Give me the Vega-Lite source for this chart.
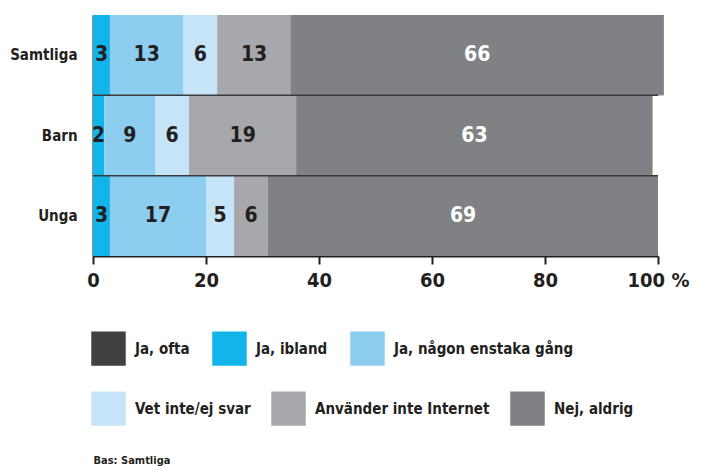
{
  "$schema": "https://vega.github.io/schema/vega-lite/v6.json",
  "width": 565,
  "height": 241,
  "autosize": {"type": "none"},
  "padding": {"left": 93, "top": 15, "right": 44, "bottom": 210},
  "background": "white",
  "config": {
    "view": {"stroke": null},
    "font": "DejaVu Sans Condensed, DejaVu Sans, sans-serif"
  },
  "data": {
    "values": [
      {"group": "Samtliga", "cat": "Ja, ofta", "value": 0},
      {"group": "Samtliga", "cat": "Ja, ibland", "value": 3},
      {"group": "Samtliga", "cat": "Ja, någon enstaka gång", "value": 13},
      {"group": "Samtliga", "cat": "Vet inte/ej svar", "value": 6},
      {"group": "Samtliga", "cat": "Använder inte Internet", "value": 13},
      {"group": "Samtliga", "cat": "Nej, aldrig", "value": 66},
      {"group": "Barn", "cat": "Ja, ofta", "value": 0},
      {"group": "Barn", "cat": "Ja, ibland", "value": 2},
      {"group": "Barn", "cat": "Ja, någon enstaka gång", "value": 9},
      {"group": "Barn", "cat": "Vet inte/ej svar", "value": 6},
      {"group": "Barn", "cat": "Använder inte Internet", "value": 19},
      {"group": "Barn", "cat": "Nej, aldrig", "value": 63},
      {"group": "Unga", "cat": "Ja, ofta", "value": 0},
      {"group": "Unga", "cat": "Ja, ibland", "value": 3},
      {"group": "Unga", "cat": "Ja, någon enstaka gång", "value": 17},
      {"group": "Unga", "cat": "Vet inte/ej svar", "value": 5},
      {"group": "Unga", "cat": "Använder inte Internet", "value": 6},
      {"group": "Unga", "cat": "Nej, aldrig", "value": 69}
    ]
  },
  "transform": [
    {"calculate": "indexof(['Ja, ofta','Ja, ibland','Ja, någon enstaka gång','Vet inte/ej svar','Använder inte Internet','Nej, aldrig'], datum.cat)", "as": "rank"},
    {"stack": "value", "groupby": ["group"], "sort": [{"field": "rank", "order": "ascending"}], "as": ["x0", "x1"]},
    {"calculate": "(datum.x0 + datum.x1) / 2", "as": "mid"},
    {"calculate": "datum.cat", "as": "cat2"}
  ],
  "encoding": {
    "y": {
      "field": "group",
      "type": "nominal",
      "sort": ["Samtliga", "Barn", "Unga"],
      "scale": {"paddingInner": 0, "paddingOuter": 0},
      "axis": {
        "title": null,
        "domain": true,
        "domainColor": "#231f20",
        "domainWidth": 2,
        "ticks": false,
        "labelPadding": 16,
        "labelFontSize": 15,
        "labelFontWeight": "bold",
        "labelColor": "#231f20"
      }
    }
  },
  "layer": [
    {
      "transform": [{"filter": "datum.rank >= 3"}],
      "mark": {"type": "bar", "stroke": null},
      "encoding": {
        "x": {
          "field": "x0",
          "type": "quantitative",
          "scale": {"domain": [0, 100], "nice": false},
          "axis": {
            "values": [0, 20, 40, 60, 80, 100],
            "labelExpr": "datum.value == 100 ? '100 %' : datum.label",
            "grid": false,
            "domainColor": "#231f20",
            "domainWidth": 2,
            "tickColor": "#231f20",
            "tickWidth": 2,
            "tickSize": 8,
            "labelFontSize": 20,
            "labelFontWeight": "bold",
            "labelColor": "#231f20",
            "labelPadding": 6,
            "labelFlush": false,
            "labelOverlap": false,
            "title": "Bas: Samtliga",
            "titleFontSize": 11,
            "titleFontWeight": "bold",
            "titleColor": "#231f20",
            "titleAlign": "left",
            "titleAnchor": "start",
            "titleX": 0,
            "titleY": 207,
            "titleBaseline": "alphabetic",
            "encode": {
              "labels": {
                "update": {
                  "align": {"signal": "datum.value == 100 ? 'left' : 'center'"},
                  "dx": {"signal": "datum.value == 100 ? -19 : 0"}
                }
              }
            }
          }
        },
        "x2": {"field": "x1"},
        "fill": {
          "field": "cat2",
          "type": "nominal",
          "sort": ["Vet inte/ej svar", "Använder inte Internet", "Nej, aldrig"],
          "scale": {
            "domain": ["Vet inte/ej svar", "Använder inte Internet", "Nej, aldrig"],
            "range": ["#c6e4f7", "#a7a8ab", "#808184"]
          },
          "legend": {
            "title": null,
            "orient": "none",
            "legendX": -2,
            "legendY": 376,
            "direction": "horizontal",
            "symbolType": "square",
            "symbolSize": 1190,
            "symbolStrokeWidth": 0,
            "symbolOpacity": 1,
            "labelFontSize": 15,
            "labelFontWeight": "bold",
            "labelColor": "#231f20",
            "labelOffset": 9,
            "labelLimit": 0,
            "columnPadding": 20
          }
        }
      }
    },
    {
      "mark": {"type": "bar", "stroke": null},
      "encoding": {
        "x": {"field": "x0", "type": "quantitative"},
        "x2": {"field": "x1"},
        "color": {
          "field": "cat",
          "type": "nominal",
          "sort": ["Ja, ofta", "Ja, ibland", "Ja, någon enstaka gång", "Vet inte/ej svar", "Använder inte Internet", "Nej, aldrig"],
          "scale": {
            "domain": ["Ja, ofta", "Ja, ibland", "Ja, någon enstaka gång", "Vet inte/ej svar", "Använder inte Internet", "Nej, aldrig"],
            "range": ["#414042", "#12b5ea", "#8dcdf0", "#c6e4f7", "#a7a8ab", "#808184"]
          },
          "legend": {
            "title": null,
            "values": ["Ja, ofta", "Ja, ibland", "Ja, någon enstaka gång"],
            "orient": "none",
            "legendX": -2,
            "legendY": 316,
            "direction": "horizontal",
            "symbolType": "square",
            "symbolSize": 1190,
            "symbolStrokeWidth": 0,
            "symbolOpacity": 1,
            "labelFontSize": 15,
            "labelFontWeight": "bold",
            "labelColor": "#231f20",
            "labelOffset": 9,
            "labelLimit": 0,
            "columnPadding": 22
          }
        }
      }
    },
    {
      "transform": [{"filter": "datum.rank == 5 && datum.group != 'Samtliga'"}],
      "mark": {"type": "rule", "color": "#3a3a3c", "strokeWidth": 1.5},
      "encoding": {
        "y": {"field": "group", "type": "nominal", "bandPosition": 0},
        "x": {"datum": 0},
        "x2": {"datum": 100}
      }
    },
    {
      "transform": [{"filter": "datum.value > 0"}],
      "mark": {"type": "text", "fontSize": 21, "fontWeight": "bold", "align": "center", "baseline": "middle"},
      "encoding": {
        "x": {"field": "mid", "type": "quantitative"},
        "text": {"field": "value", "type": "quantitative"},
        "color": {
          "condition": {"test": "datum.cat === 'Nej, aldrig'", "value": "white"},
          "value": "#231f20"
        }
      }
    }
  ]
}
